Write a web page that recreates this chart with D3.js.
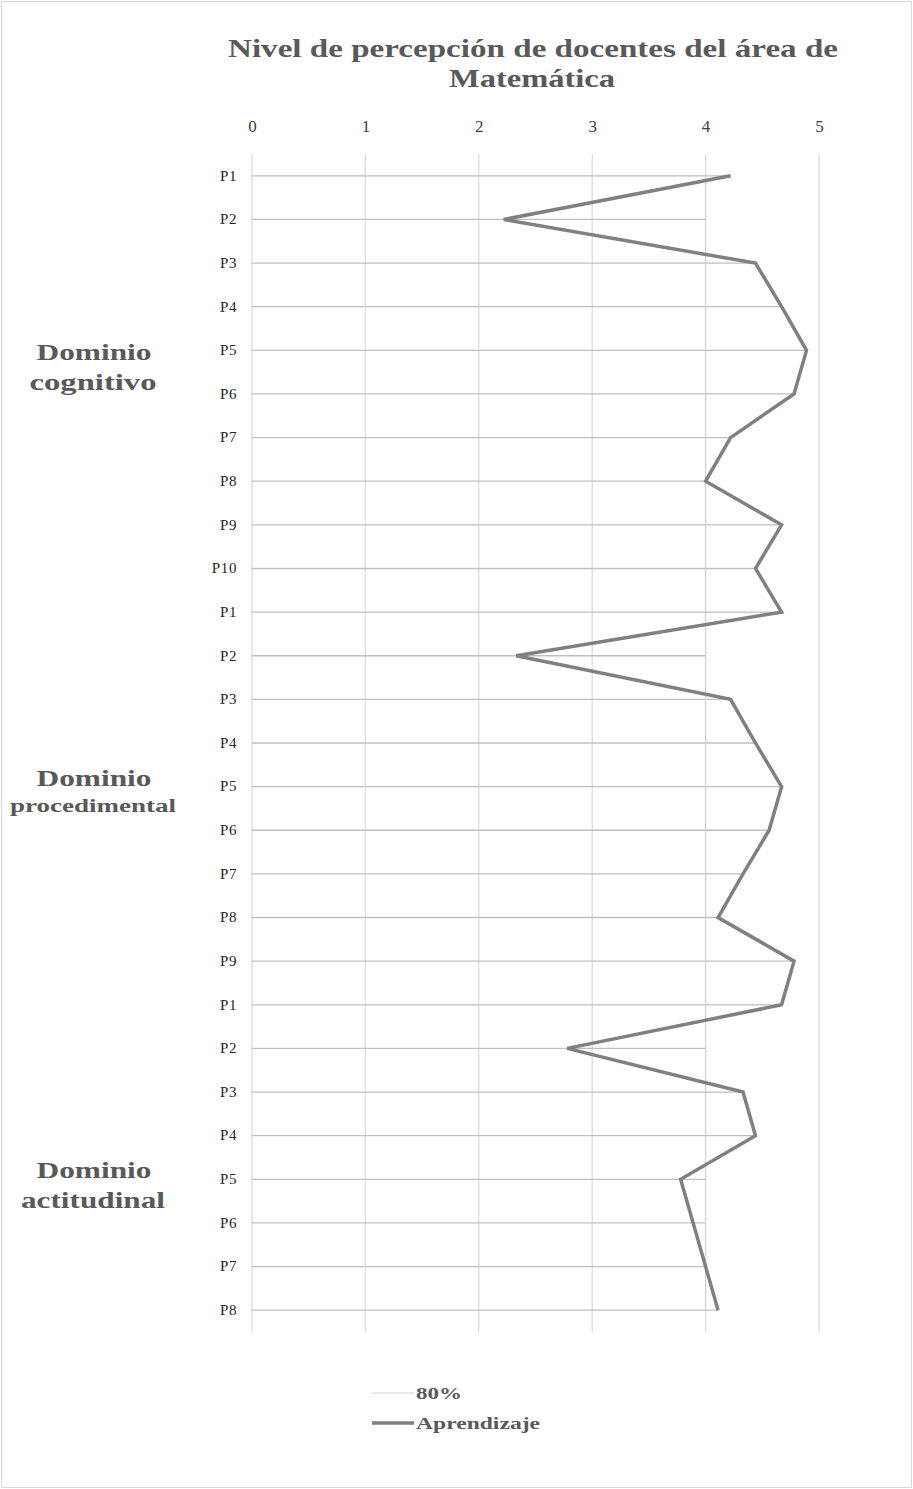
<!DOCTYPE html>
<html><head><meta charset="utf-8">
<script src="https://cdn.jsdelivr.net/npm/d3@7"></script>
<style>body{margin:0;background:#fff}svg{display:block}</style>
</head><body>
<script>
const categories = ["P1","P2","P3","P4","P5","P6","P7","P8","P9","P10",
  "P1","P2","P3","P4","P5","P6","P7","P8","P9",
  "P1","P2","P3","P4","P5","P6","P7","P8"];
const aprendizaje = [4.22,2.22,4.44,4.67,4.89,4.78,4.22,4.0,4.67,4.44,
  4.67,2.33,4.22,4.44,4.67,4.56,4.33,4.11,4.78,
  4.67,2.78,4.33,4.44,3.78,3.89,4.0,4.11];
const umbral80 = categories.map(() => 4);
const xTicks = [0,1,2,3,4,5];
const domainLabels = [
  {lines:["Dominio","cognitivo"]},
  {lines:["Dominio","procedimental"]},
  {lines:["Dominio","actitudinal"]}
];

const W = 913, H = 1489;
const svg = d3.select("body").append("svg").attr("width", W).attr("height", H);
svg.append("rect").attr("x",1.5).attr("y",1.5).attr("width",W-3).attr("height",H-3)
  .attr("fill","#fff").attr("stroke","#d9d9d9").attr("stroke-width",1);

const x = d3.scaleLinear().domain([0,5]).range([252,819]);
const idx = categories.map((d,i)=>i);
const y = d3.scaleBand().domain(idx).range([154,1332]);
const yc = i => y(i) + y.bandwidth()/2;

const serif = "'Liberation Serif','Times New Roman',serif";

function stretched(g, txt, cx, yy, len, size, anchor) {
  const t = g.append("text").attr("x",cx).attr("y",yy).attr("text-anchor",anchor||"middle")
    .attr("font-family",serif).attr("font-weight","bold").attr("font-size",size)
    .attr("fill","#595959").attr("textLength",len).attr("lengthAdjust","spacingAndGlyphs")
    .text(txt);
  return t;
}

// title
stretched(svg,"Nivel de percepción de docentes del área de",533,57,610,25);
stretched(svg,"Matemática",532,87,166,25);

// vertical gridlines
svg.append("g").selectAll("line").data(xTicks).join("line")
  .attr("x1",d=>x(d)).attr("x2",d=>x(d)).attr("y1",154).attr("y2",1332)
  .attr("stroke","#d9d9d9").attr("stroke-width",1.2);

// top axis labels
const xAxis = svg.append("g").attr("transform","translate(0,132)")
  .call(d3.axisTop(x).tickValues(xTicks).tickFormat(d3.format("d")).tickSize(0).tickPadding(0));
xAxis.select(".domain").remove();
xAxis.selectAll("text").attr("font-family",serif).attr("font-size",17).attr("fill","#404040");

// drop lines (from axis to max of both series)
svg.append("g").selectAll("line").data(idx).join("line")
  .attr("x1",x(0)).attr("x2",i=>x(Math.max(umbral80[i],aprendizaje[i])))
  .attr("y1",i=>yc(i)).attr("y2",i=>yc(i))
  .attr("stroke","#bfbfbf").attr("stroke-width",1.3);

// category axis labels
const yAxis = svg.append("g").attr("transform",`translate(${x(0)},0)`)
  .call(d3.axisLeft(y).tickFormat(i=>categories[i]).tickSize(0).tickPadding(15));
yAxis.select(".domain").remove();
yAxis.selectAll("text").attr("font-family",serif).attr("font-size",15)
  .attr("letter-spacing",0.6).attr("fill","#262626");

// 80% series
svg.append("path").datum(idx)
  .attr("d", d3.line().x(i=>x(umbral80[i])).y(i=>yc(i)))
  .attr("fill","none").attr("stroke","#d0d0d0").attr("stroke-width",1);

// Aprendizaje series
svg.append("path").datum(idx)
  .attr("d", d3.line().x(i=>x(aprendizaje[i])).y(i=>yc(i)))
  .attr("fill","none").attr("stroke","#808080").attr("stroke-width",3.5)
  .attr("stroke-linejoin","miter");

// domain labels
const dl = svg.append("g");
const dPos = [
  {y1:360,y2:390,l1:115,l2:127,s2:23},
  {y1:786,y2:812,l1:115,l2:166,s2:18},
  {y1:1178,y2:1208,l1:115,l2:144,s2:23}
];
domainLabels.forEach((d,k)=>{
  const p = dPos[k];
  stretched(dl,d.lines[0],94,p.y1,p.l1,23);
  stretched(dl,d.lines[1],93,p.y2,p.l2,p.s2);
});

// legend
const lg = svg.append("g");
lg.append("line").attr("x1",372).attr("x2",414).attr("y1",1393).attr("y2",1393)
  .attr("stroke","#d0d0d0").attr("stroke-width",1);
stretched(lg,"80%",416,1399,46,17,"start");
lg.append("line").attr("x1",372).attr("x2",414).attr("y1",1423).attr("y2",1423)
  .attr("stroke","#808080").attr("stroke-width",3.5);
stretched(lg,"Aprendizaje",416,1429,124,17,"start");
</script>
</body></html>
